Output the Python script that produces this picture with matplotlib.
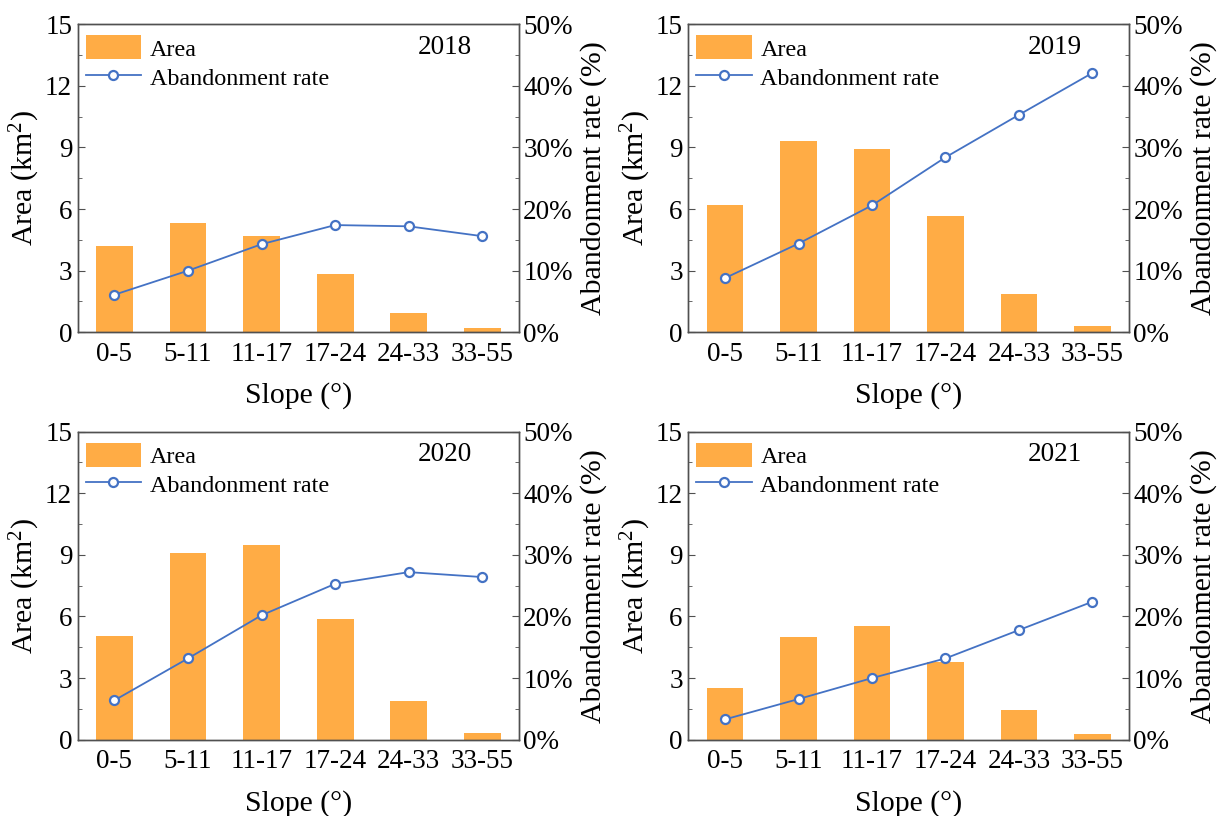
import numpy as np
import matplotlib
matplotlib.use("Agg")
import matplotlib.pyplot as plt
from matplotlib.ticker import MultipleLocator, FuncFormatter

plt.rcParams['font.family'] = ['Liberation Serif', 'DejaVu Serif']
plt.rcParams['mathtext.fontset'] = 'custom'
plt.rcParams['mathtext.rm'] = 'Liberation Serif'
plt.rcParams['mathtext.default'] = 'regular'

slopes = ['0-5', '5-11', '11-17', '17-24', '24-33', '33-55']
years = ['2018', '2019', '2020', '2021']

# area in km2 per slope class
area_2018 = [4.20, 5.32, 4.69, 2.84, 0.93, 0.19]
area_2019 = [6.22, 9.32, 8.91, 5.65, 1.88, 0.32]
area_2020 = [5.03, 9.11, 9.46, 5.86, 1.88, 0.34]
area_2021 = [2.50, 4.98, 5.54, 3.77, 1.46, 0.28]

# abandonment rate in %
rate_2018 = [6.1, 10.0, 14.3, 17.4, 17.2, 15.6]
rate_2019 = [8.8, 14.4, 20.6, 28.4, 35.3, 42.1]
rate_2020 = [6.4, 13.2, 20.2, 25.3, 27.2, 26.4]
rate_2021 = [3.3, 6.6, 10.0, 13.2, 17.8, 22.4]

areas = [area_2018, area_2019, area_2020, area_2021]
rates = [rate_2018, rate_2019, rate_2020, rate_2021]

bar_color = '#FFAC45'
line_color = '#4472C4'
spine_color = '#505050'

fig = plt.figure(figsize=(12.18, 8.16), dpi=100)

# axes boxes in figure fractions [left, bottom, width, height]
boxes = [
    [0.0638, 0.5928, 0.3623, 0.3775],
    [0.5651, 0.5928, 0.3620, 0.3775],
    [0.0638, 0.0935, 0.3623, 0.3775],
    [0.5651, 0.0935, 0.3620, 0.3775],
]

x = np.arange(len(slopes))

for box, year, area, rate in zip(boxes, years, areas, rates):
    ax = fig.add_axes(box)
    ax2 = ax.twinx()

    b = ax.bar(x, area, width=0.5, color=bar_color, label='Area', zorder=2)
    l, = ax2.plot(x, rate, color=line_color, lw=1.3, marker='o', ms=6.5,
                  mfc='white', mec=line_color, mew=1.6, label='Abandonment rate')

    ax.set_xlim(-0.5, len(slopes) - 0.5)
    ax.set_ylim(0, 15)
    ax2.set_ylim(0, 50)
    ax.set_xticks(x)
    ax.set_xticklabels(slopes)
    ax.yaxis.set_major_locator(MultipleLocator(3))
    ax.yaxis.set_minor_locator(MultipleLocator(1.5))
    ax2.yaxis.set_major_locator(MultipleLocator(10))
    ax2.yaxis.set_minor_locator(MultipleLocator(5))
    ax2.yaxis.set_major_formatter(FuncFormatter(lambda v, p: '%d%%' % v))

    ax.tick_params(axis='x', length=0, labelsize=19.5, pad=7)
    ax.tick_params(axis='y', which='major', direction='in', length=5,
                   labelsize=19.5, color=spine_color, pad=4)
    ax.tick_params(axis='y', which='minor', direction='in', length=3, color=spine_color)
    ax2.tick_params(axis='y', which='major', direction='in', length=5,
                    labelsize=19.5, color=spine_color, pad=3)
    ax2.tick_params(axis='y', which='minor', direction='in', length=3, color=spine_color)

    for a in (ax, ax2):
        for s in a.spines.values():
            s.set_color(spine_color)
            s.set_linewidth(1.0)

    ax.set_xlabel('Slope (°)', fontsize=21.5, labelpad=11)
    ax.set_ylabel('Area (km$^2$)', fontsize=21.5, labelpad=2)
    ax2.set_ylabel('Abandonment rate (%)', fontsize=21.5, labelpad=5)

    ax.text(0.893, 0.926, year, transform=ax.transAxes, ha='right', va='center',
            fontsize=19.5)

    ax.legend([b, l], ['Area', 'Abandonment rate'], loc='upper left',
              bbox_to_anchor=(0.018, 0.964), borderaxespad=0, borderpad=0,
              frameon=False, fontsize=17.4, handlelength=2.3, handleheight=1.15,
              handletextpad=0.35, labelspacing=0.18)

fig.savefig('out.png', dpi=100)
